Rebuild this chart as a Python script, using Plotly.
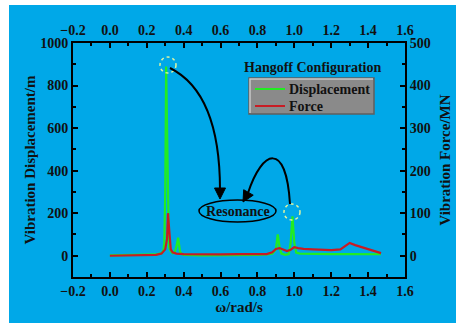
import plotly.graph_objects as go
import math

# ---------------- data ----------------
disp_omega = [0.0, 0.1, 0.2, 0.25, 0.28, 0.29, 0.295, 0.30, 0.305, 0.31, 0.315, 0.32, 0.33, 0.34,
              0.35, 0.36, 0.37, 0.375, 0.38, 0.39, 0.40, 0.5, 0.6, 0.7, 0.8, 0.85, 0.88, 0.9, 0.91,
              0.92, 0.93, 0.95, 0.97, 0.98, 0.99, 1.0, 1.01, 1.03, 1.1, 1.2, 1.3, 1.4, 1.47]
disp_values = [2, 3, 4, 6, 12, 25, 60, 300, 890, 500, 120, 40, 20, 12,
               15, 40, 85, 60, 20, 8, 4, 2, 2, 3, 4, 6, 10, 30, 100,
               40, 10, 4, 8, 60, 185, 60, 15, 10, 8, 8, 8, 8, 7]

force_omega = [0.0, 0.1, 0.2, 0.25, 0.28, 0.30, 0.31, 0.315, 0.32, 0.325, 0.33, 0.34, 0.36, 0.4,
               0.5, 0.6, 0.7, 0.8, 0.85, 0.88, 0.9, 0.92, 0.94, 0.96, 0.98, 1.0, 1.02, 1.05,
               1.1, 1.2, 1.25, 1.28, 1.3, 1.33, 1.4, 1.47]
force_values = [0, 0.5, 1, 2, 5, 15, 40, 100, 70, 30, 15, 8, 5, 4,
                3, 3, 4, 4, 4, 8, 16, 18, 14, 11, 14, 20, 18, 16,
                15, 13, 15, 25, 30, 25, 16, 6]

series_names = ["Displacement", "Force"]
x_ticks = [-0.2, 0.0, 0.2, 0.4, 0.6, 0.8, 1.0, 1.2, 1.4, 1.6]
left_ticks = [0, 200, 400, 600, 800, 1000]
right_ticks = [0, 100, 200, 300, 400, 500]

# ---------------- layout geometry ----------------
W, H = 464, 323
L, R, T, B = 73, 405, 43, 277
XR = [-0.2, 1.6]
YR = [-100, 1000]
Y2R = [-50, 500]

def dx(px):
    return XR[0] + (px - L) / (R - L) * (XR[1] - XR[0])

def dy(py):
    return YR[0] + (B - py) / (B - T) * (YR[1] - YR[0])

def qx(px):
    return (px - L) / (R - L)

def qy(py):
    return (B - py) / (B - T)

BG = "rgb(0,168,232)"
GREEN = "rgb(34,236,34)"
RED = "rgb(200,28,36)"
FONT = "Times New Roman, Liberation Serif, serif"

fig = go.Figure()
fig.add_trace(go.Scatter(x=disp_omega, y=disp_values, mode="lines", name=series_names[0],
                         line=dict(color=GREEN, width=2.2), xaxis="x", yaxis="y"))
fig.add_trace(go.Scatter(x=force_omega, y=force_values, mode="lines", name=series_names[1],
                         line=dict(color=RED, width=2.2), xaxis="x", yaxis="y2"))
# helper trace to carry top axis
fig.add_trace(go.Scatter(x=[XR[0]], y=[YR[0]], mode="markers", marker=dict(opacity=0),
                         showlegend=False, hoverinfo="skip", xaxis="x2", yaxis="y"))

tickfont = dict(family=FONT, size=14, color="#111", weight="bold")
titlefont = dict(family=FONT, size=15, color="#111", weight="bold")

axis_common = dict(showline=True, linecolor="black", linewidth=2, ticks="inside",
                   ticklen=5, tickwidth=1.5, tickcolor="black", showgrid=False,
                   zeroline=False, tickfont=tickfont, automargin=False)

shapes = []
# blue background panel
shapes.append(dict(type="rect", xref="paper", yref="paper", layer="below",
                   x0=qx(9), x1=qx(456), y0=qy(324), y1=qy(5),
                   fillcolor=BG, line=dict(width=0)))

def circle(cx, cy, r):
    return dict(type="circle", xref="x", yref="y", x0=dx(cx - r), x1=dx(cx + r),
                y0=dy(cy + r), y1=dy(cy - r), line=dict(color="rgb(225,245,160)", width=1.5, dash="dot"))

shapes.append(circle(168, 65, 8))
shapes.append(circle(292, 212, 8))
# Resonance ellipse
shapes.append(dict(type="circle", xref="x", yref="y", x0=dx(199), x1=dx(276),
                   y0=dy(222), y1=dy(200), line=dict(color="black", width=1.5)))

def curve(p0, p1, p2, p3):
    pts = [p0, p1, p2, p3]
    s = "M {},{} C {},{} {},{} {},{}".format(*sum([[dx(p[0]), dy(p[1])] for p in pts], []))
    return dict(type="path", xref="x", yref="y", path=s, line=dict(color="black", width=2))

def head(tip, frm, length=11, width=11):
    vx, vy = tip[0] - frm[0], tip[1] - frm[1]
    n = math.hypot(vx, vy)
    ux, uy = vx / n, vy / n
    bx, by = tip[0] - ux * length, tip[1] - uy * length
    px_, py_ = -uy, ux
    a = (bx + px_ * width / 2, by + py_ * width / 2)
    b = (bx - px_ * width / 2, by - py_ * width / 2)
    s = "M {},{} L {},{} L {},{} Z".format(dx(tip[0]), dy(tip[1]), dx(a[0]), dy(a[1]), dx(b[0]), dy(b[1]))
    return dict(type="path", xref="x", yref="y", path=s, fillcolor="black", line=dict(color="black", width=1))

# arrow 1: from top peak to Resonance
shapes.append(curve((170, 68), (206, 86), (220, 130), (220, 190)))
shapes.append(head((220, 199), (220, 185)))
# arrow 2: from second peak to Resonance
shapes.append(curve((290, 204), (286, 140), (262, 150), (248, 193)))
shapes.append(head((243, 202), (251, 188)))

# legend box (bevelled grey panel)
shapes.append(dict(type="rect", xref="paper", yref="paper", x0=qx(249), x1=qx(374),
                   y0=qy(114), y1=qy(78), fillcolor="rgb(138,138,138)",
                   line=dict(color="rgb(95,95,95)", width=1.5)))
shapes.append(dict(type="path", xref="paper", yref="paper",
                   path="M {},{} L {},{} L {},{}".format(qx(250), qy(113), qx(250), qy(79), qx(373), qy(79)),
                   line=dict(color="rgb(200,200,200)", width=1.5)))
legend_rows = [(series_names[0], GREEN, 89), (series_names[1], RED, 106)]
annotations = []
for name, col, yy in legend_rows:
    shapes.append(dict(type="line", xref="paper", yref="paper", x0=qx(255), x1=qx(285),
                       y0=qy(yy), y1=qy(yy), line=dict(color=col, width=2)))
    annotations.append(dict(x=qx(287), y=qy(yy), xref="paper", yref="paper", text=name,
                            xanchor="left", yanchor="middle", showarrow=False,
                            font=dict(family=FONT, size=14, color="#111", weight="bold")))

annotations += [
    dict(x=dx(237.5), y=dy(211), xref="x", yref="y", text="Resonance", showarrow=False,
         xanchor="center", yanchor="middle",
         font=dict(family=FONT, size=14, color="#111", weight="bold")),
    dict(x=qx(313), y=qy(67), xref="paper", yref="paper",
         text="Hangoff Configuration", showarrow=False, xanchor="center", yanchor="middle",
         font=dict(family=FONT, size=14, color="#111", weight="bold")),
]

fig.update_layout(
    width=W, height=H,
    margin=dict(l=L, r=W - R, t=T, b=H - B),
    paper_bgcolor="white", plot_bgcolor="rgba(0,0,0,0)",
    font=dict(family=FONT, color="#111"),
    shapes=shapes, annotations=annotations,
    showlegend=False,
    xaxis=dict(range=XR, tickvals=x_ticks, tickformat=".1f",
               minor=dict(dtick=0.1, ticks="inside", ticklen=3, tickcolor="black"),
               title=dict(text="ω/rad/s", font=titlefont, standoff=0), mirror=False, **axis_common),
    xaxis2=dict(range=XR, tickvals=x_ticks, tickformat=".1f", overlaying="x", side="top",
                anchor="y", matches="x",
                minor=dict(dtick=0.1, ticks="inside", ticklen=3, tickcolor="black"), **axis_common),
    yaxis=dict(range=YR, tickvals=left_ticks,
               minor=dict(dtick=100, ticks="inside", ticklen=3, tickcolor="black"),
               title=dict(text="Vibration Displacement/m", font=titlefont, standoff=1), **axis_common),
    yaxis2=dict(range=Y2R, tickvals=right_ticks, overlaying="y", side="right", anchor="x",
                minor=dict(dtick=50, ticks="inside", ticklen=3, tickcolor="black"),
                title=dict(text="Vibration Force/MN", font=titlefont, standoff=10), **axis_common),
)

fig.write_html("out.html", config={"displayModeBar": False},
               post_script="document.body.style.margin='0px';document.body.style.padding='0px';")
